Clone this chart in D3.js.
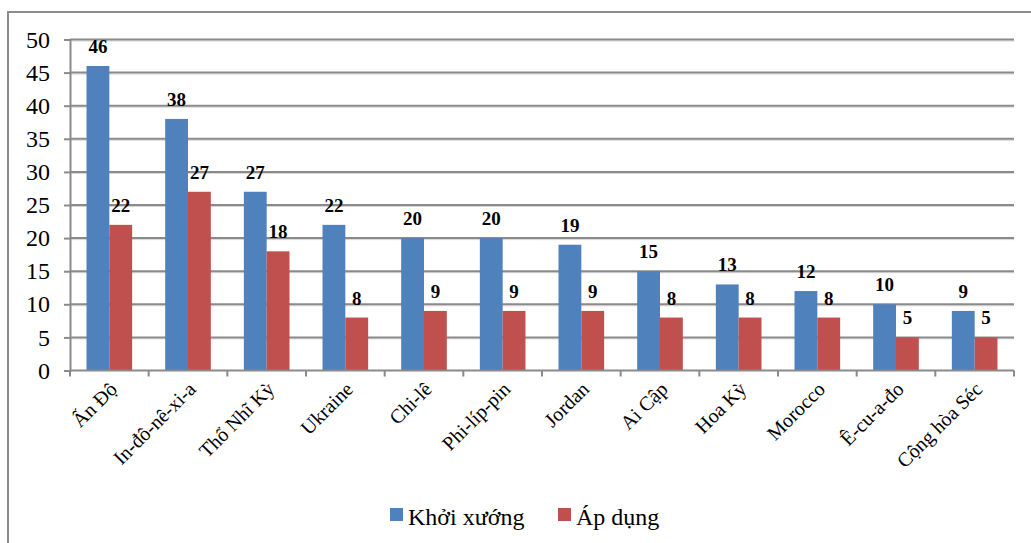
<!DOCTYPE html>
<html>
<head>
<meta charset="utf-8">
<script src="https://cdn.jsdelivr.net/npm/d3@7"></script>
</head>
<body style="margin:0;background:#fff">
<svg id="chart" width="1031" height="543" style="display:block"></svg>
<script>
// Countries and number of cases per country
const categories = ["Ấn Độ", "In-đô-nê-xi-a", "Thổ Nhĩ Kỳ", "Ukraine", "Chi-lê", "Phi-líp-pin",
                    "Jordan", "Ai Cập", "Hoa Kỳ", "Morocco", "Ê-cu-a-đo", "Cộng hòa Séc"];
const seriesNames = ["Khởi xướng", "Áp dụng"];
const khoiXuong = [46, 38, 27, 22, 20, 20, 19, 15, 13, 12, 10, 9];
const apDung    = [22, 27, 18, 8, 9, 9, 9, 8, 8, 8, 5, 5];
const yTicks = [0, 5, 10, 15, 20, 25, 30, 35, 40, 45, 50];
const colors = ["#4F81BD", "#C0504D"];
// Serif stack; DejaVu Serif covers any glyph the first face lacks
const FONT = "'Liberation Serif', 'DejaVu Serif', serif";

const svg = d3.select("#chart").attr("font-family", FONT);
const plot = { left: 70, right: 1014, top: 39.5, bottom: 370.5 };

// Outer frame (top and left edges visible)
svg.append("path")
  .attr("d", "M8,543 L8,12 L1031,12")
  .attr("fill", "none").attr("stroke", "#8c8c8c").attr("stroke-width", 2);

const y = d3.scaleLinear().domain([0, 50]).range([plot.bottom, plot.top]);
const x0 = d3.scaleBand().domain(categories).range([plot.left, plot.right])
  .paddingInner(0.42).paddingOuter(0.21);
const x1 = d3.scaleBand().domain(seriesNames).range([0, x0.bandwidth()]);

// Horizontal gridlines with a soft shadow underneath
const grid = svg.append("g");
yTicks.filter(d => d > 0).forEach(t => {
  grid.append("line").attr("x1", plot.left).attr("x2", plot.right)
    .attr("y1", y(t) + 1.5).attr("y2", y(t) + 1.5)
    .attr("stroke", "#d6d6d6").attr("stroke-width", 1);
  grid.append("line").attr("x1", plot.left).attr("x2", plot.right)
    .attr("y1", y(t)).attr("y2", y(t))
    .attr("stroke", "#8a8a8a").attr("stroke-width", 2);
});

// Bars
const rows = categories.map((c, i) => ({ cat: c, vals: [khoiXuong[i], apDung[i]] }));
const groups = svg.append("g").selectAll("g").data(rows).join("g")
  .attr("transform", d => `translate(${x0(d.cat)},0)`);
groups.selectAll("rect")
  .data(d => d.vals.map((v, k) => ({ name: seriesNames[k], v, k })))
  .join("rect")
  .attr("x", d => x1(d.name))
  .attr("width", x1.bandwidth())
  .attr("y", d => y(d.v))
  .attr("height", d => y(0) - y(d.v))
  .attr("fill", d => colors[d.k]);

// Value labels
groups.selectAll("text.val")
  .data(d => d.vals.map((v, k) => ({ name: seriesNames[k], v, k })))
  .join("text").attr("class", "val")
  .attr("x", d => x1(d.name) + x1.bandwidth() / 2)
  .attr("y", d => y(d.v) - 13)
  .attr("text-anchor", "middle")
  .attr("font-size", 19).attr("font-weight", "bold")
  .text(d => d.v);

// Y axis
const yAxis = svg.append("g").attr("transform", `translate(${plot.left},0)`)
  .call(d3.axisLeft(y).tickValues(yTicks).tickSize(6).tickPadding(14))
  .attr("font-family", FONT).attr("font-size", 24);
yAxis.select(".domain").attr("stroke", "#8a8a8a").attr("stroke-width", 2);
yAxis.selectAll(".tick line").attr("stroke", "#8a8a8a").attr("stroke-width", 2);
yAxis.selectAll(".tick text").attr("fill", "#000");

// X axis baseline with boundary ticks
const xa = svg.append("g");
xa.append("line").attr("x1", plot.left).attr("x2", plot.right)
  .attr("y1", y(0)).attr("y2", y(0)).attr("stroke", "#8a8a8a").attr("stroke-width", 2);
const step = x0.step();
d3.range(categories.length + 1).forEach(i => {
  const xx = plot.left + i * step;
  xa.append("line").attr("x1", xx).attr("x2", xx)
    .attr("y1", y(0)).attr("y2", y(0) + 6)
    .attr("stroke", "#8a8a8a").attr("stroke-width", 2);
});

// Rotated category labels
xa.selectAll("text.cat").data(categories).join("text").attr("class", "cat")
  .attr("transform", d => `translate(${x0(d) + x0.bandwidth() / 2 + 4},${plot.bottom + 15}) rotate(-45)`)
  .attr("text-anchor", "end")
  .attr("dy", "0.35em")
  .attr("font-size", 20)
  .text(d => d);

// Legend
const legendItems = [
  { name: seriesNames[0], color: colors[0], x: 390 },
  { name: seriesNames[1], color: colors[1], x: 558 }
];
const lg = svg.append("g");
legendItems.forEach(it => {
  lg.append("rect").attr("x", it.x).attr("y", 508).attr("width", 13).attr("height", 13)
    .attr("fill", it.color);
  lg.append("text").attr("x", it.x + 18).attr("y", 525)
    .attr("font-size", 24).text(it.name);
});
</script>
</body>
</html>
